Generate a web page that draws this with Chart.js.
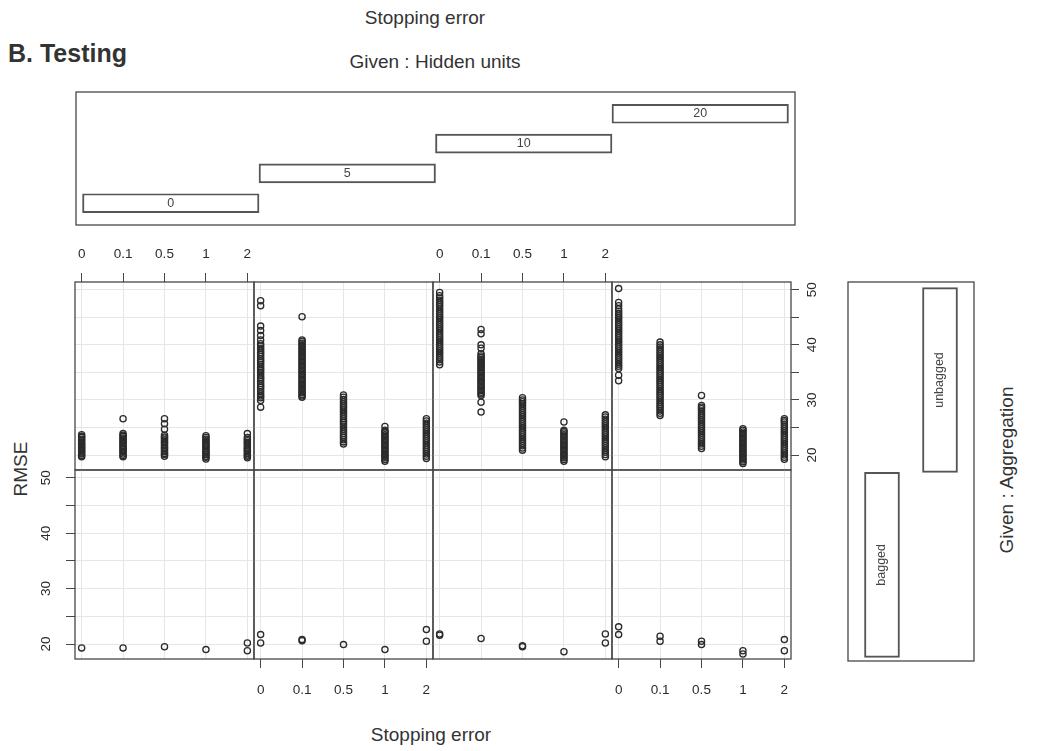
<!DOCTYPE html>
<html>
<head>
<meta charset="utf-8">
<title>RMSE by stopping error, hidden units and aggregation</title>
<script src="https://cdn.jsdelivr.net/npm/chart.js@4.4.1/dist/chart.umd.min.js"></script>
<style>
  body { margin: 0; background: #fff; }
  #page {
    position: relative; width: 1037px; height: 751px; overflow: hidden;
    font-family: "Liberation Sans", Arial, sans-serif; color: #333;
  }
  #page canvas { position: absolute; }
  .lbl { position: absolute; white-space: nowrap; font-size: 19px; transform: translate(-50%, -50%); }
  .rot { transform: translate(-50%, -50%) rotate(-90deg); }
</style>
</head>
<body>
<div id="page">
  <div class="lbl" style="left:425px; top:18px">Stopping error</div>
  <div class="lbl" style="left:8px; top:53px; transform:translate(0,-50%); font-weight:bold; font-size:25px">B. Testing</div>
  <div class="lbl" style="left:435px; top:62px">Given : Hidden units</div>
  <div class="lbl rot" style="left:21px; top:469px">RMSE</div>
  <div class="lbl" style="left:431px; top:735px">Stopping error</div>
  <div class="lbl rot" style="left:1007px; top:470px">Given : Aggregation</div>
</div>
<script>
// categories and tick labels
const stopErrors = ['0', '0.1', '0.5', '1', '2'];
const hiddenUnits = ['0', '5', '10', '20'];
const aggregation = ['bagged', 'unbagged'];
const rmseTicks = [20, 25, 30, 35, 40, 45, 50];
const rmseTickLabels = ['20', '', '30', '', '40', '', '50'];

// test RMSE of every run, one list per stopping error (unbagged networks)
const unbagged0 = [
  [19.7, 19.9, 20.2, 20.4, 20.7, 20.9, 21.2, 21.4, 21.6, 21.9, 22.1, 22.4, 22.7, 22.9, 23.2, 23.4, 23.7],
  [19.7, 19.9, 20.2, 20.5, 20.7, 21.0, 21.3, 21.5, 21.8, 22.1, 22.3, 22.6, 22.9, 23.1, 23.4, 23.6, 23.9, 26.6],
  [19.8, 20.1, 20.3, 20.6, 20.9, 21.2, 21.4, 21.7, 22.0, 22.3, 22.5, 22.8, 23.1, 23.3, 23.6, 24.7, 25.7, 26.6],
  [19.3, 19.6, 19.8, 20.1, 20.4, 20.6, 20.9, 21.2, 21.5, 21.7, 22.0, 22.3, 22.6, 22.9, 23.2, 23.5],
  [19.5, 19.8, 20.0, 20.3, 20.6, 20.9, 21.1, 21.4, 21.7, 22.0, 22.3, 22.6, 22.9, 23.2, 23.9]
];
const unbagged5 = [
  [28.7, 29.9, 30.4, 30.7, 31.1, 31.5, 31.9, 32.3, 32.6, 33.0, 33.4, 33.8, 34.1, 34.5, 34.9, 35.3, 35.6, 36.0,
   36.4, 36.8, 37.1, 37.5, 37.9, 38.3, 38.6, 39.0, 39.4, 39.8, 40.2, 40.9, 41.7, 42.6, 43.4, 47.1, 48.0],
  [30.5, 30.7, 31.0, 31.3, 31.6, 31.9, 32.2, 32.5, 32.8, 33.1, 33.4, 33.7, 34.0, 34.3, 34.6, 34.9, 35.2, 35.5,
   35.8, 36.1, 36.4, 36.7, 37.0, 37.3, 37.6, 37.9, 38.2, 38.5, 38.8, 39.1, 39.4, 39.7, 40.0, 40.3, 40.6, 40.9, 45.1],
  [22.0, 22.4, 22.8, 23.2, 23.5, 23.9, 24.3, 24.7, 25.1, 25.5, 25.9, 26.2, 26.6, 27.0, 27.4, 27.8, 28.2, 28.6,
   28.9, 29.3, 29.7, 30.1, 30.5, 30.9],
  [18.9, 19.2, 19.5, 19.8, 20.1, 20.4, 20.7, 21.0, 21.3, 21.6, 21.9, 22.2, 22.5, 22.8, 23.1, 23.4, 23.7, 24.0, 24.3, 24.5, 25.2],
  [19.4, 19.8, 20.2, 20.6, 21.0, 21.4, 21.8, 22.2, 22.6, 23.0, 23.4, 23.8, 24.2, 24.6, 25.0, 25.4, 25.8, 26.2, 26.6]
];
const unbagged10 = [
  [36.4, 36.9, 37.3, 37.7, 38.1, 38.5, 38.9, 39.3, 39.7, 40.1, 40.5, 40.9, 41.3, 41.7, 42.1, 42.5, 42.9, 43.3,
   43.7, 44.1, 44.5, 44.9, 45.3, 45.7, 46.1, 46.5, 46.9, 47.3, 47.7, 48.1, 48.5, 48.9, 49.5],
  [27.8, 29.6, 30.8, 31.1, 31.4, 31.7, 32.0, 32.3, 32.6, 32.9, 33.2, 33.5, 33.8, 34.1, 34.4, 34.7, 35.0, 35.3,
   35.6, 35.9, 36.2, 36.5, 36.8, 37.1, 37.4, 37.7, 38.0, 38.4, 39.4, 40.0, 42.0, 42.8],
  [20.9, 21.3, 21.7, 22.1, 22.5, 22.9, 23.3, 23.7, 24.1, 24.5, 24.9, 25.3, 25.7, 26.1, 26.5, 26.9, 27.3, 27.7,
   28.1, 28.5, 28.9, 29.3, 29.7, 30.0, 30.4],
  [18.9, 19.2, 19.5, 19.8, 20.1, 20.4, 20.7, 21.0, 21.3, 21.6, 21.9, 22.2, 22.5, 22.8, 23.1, 23.4, 23.7, 24.0, 24.3, 24.5, 26.0],
  [19.7, 20.1, 20.5, 20.9, 21.3, 21.7, 22.1, 22.5, 22.9, 23.3, 23.7, 24.1, 24.5, 24.9, 25.3, 25.7, 26.1, 26.5, 26.9, 27.3]
];
const unbagged20 = [
  [33.5, 34.5, 35.7, 36.1, 36.5, 36.9, 37.3, 37.7, 38.1, 38.5, 38.9, 39.3, 39.7, 40.1, 40.5, 40.9, 41.3, 41.7,
   42.1, 42.5, 42.9, 43.3, 43.7, 44.1, 44.5, 44.9, 45.3, 45.7, 46.1, 46.5, 47.1, 47.7, 50.2],
  [27.2, 27.6, 28.0, 28.4, 28.8, 29.2, 29.6, 30.0, 30.4, 30.8, 31.2, 31.6, 32.0, 32.4, 32.8, 33.2, 33.6, 34.0,
   34.4, 34.8, 35.2, 35.6, 36.0, 36.4, 36.8, 37.2, 37.6, 38.0, 38.4, 38.8, 39.2, 39.6, 40.0, 40.5],
  [21.2, 21.6, 22.0, 22.4, 22.8, 23.2, 23.6, 24.0, 24.4, 24.8, 25.2, 25.6, 26.0, 26.4, 26.8, 27.2, 27.6, 28.0,
   28.4, 28.7, 29.0, 30.8],
  [18.5, 18.8, 19.1, 19.4, 19.7, 20.0, 20.3, 20.6, 20.9, 21.2, 21.5, 21.8, 22.1, 22.4, 22.7, 23.0, 23.3, 23.6, 23.9, 24.2, 24.5, 24.8],
  [19.25, 19.6, 20.0, 20.4, 20.8, 21.2, 21.6, 22.0, 22.4, 22.8, 23.2, 23.6, 24.0, 24.4, 24.8, 25.2, 25.6, 26.0, 26.3, 26.6]
];

// bagged ensembles
const bagged0 = [[19.3], [19.3], [19.5], [19.0], [20.2, 18.8]];
const bagged5 = [[21.7, 20.2], [20.6, 20.8], [19.9], [19.0], [22.6, 20.5]];
const bagged10 = [[21.6, 21.8], [21.0], [19.5, 19.7], [18.6], [21.8, 20.2]];
const bagged20 = [[23.1, 21.7], [21.4, 20.5], [20.5, 19.9], [18.8, 18.2], [20.8, 18.8]];

// ---- layout ----
const M = 50;
const colLeft = [75, 254, 433, 612];
const colWidth = 179;
const rowTop = [282, 470];
const rowHeight = [188, 189];
const inkColor = '#2b2b2b';
const boxColor = '#474747';
const gridColor = '#e6e6e6';
const tickFont = { family: 'Liberation Sans', size: 13.5 };

Chart.defaults.font.family = 'Liberation Sans';
Chart.defaults.color = inkColor;

function makeCanvas(x, y, w, h) {
  const c = document.createElement('canvas');
  c.width = w; c.height = h;
  c.style.left = x + 'px'; c.style.top = y + 'px';
  c.style.width = w + 'px'; c.style.height = h + 'px';
  document.getElementById('page').appendChild(c);
  return c;
}

// frame round the plotting area
const panelBox = {
  id: 'panelBox',
  afterDraw(chart) {
    const { ctx, chartArea: a } = chart;
    ctx.save();
    ctx.strokeStyle = boxColor;
    ctx.lineWidth = 1.3;
    ctx.strokeRect(a.left, a.top, a.right - a.left, a.bottom - a.top);
    ctx.restore();
  }
};

// level names written inside the given-panel bars
const barText = {
  id: 'barText',
  afterDatasetsDraw(chart, args, opts) {
    const { ctx } = chart;
    ctx.save();
    ctx.font = '12.5px "Liberation Sans"';
    ctx.fillStyle = '#444';
    ctx.textAlign = 'center';
    ctx.textBaseline = 'middle';
    chart.getDatasetMeta(0).data.forEach((bar, i) => {
      const p = bar.getCenterPoint();
      ctx.save();
      ctx.translate(p.x, p.y);
      if (opts.rotate) ctx.rotate(-Math.PI / 2);
      ctx.fillText(opts.labels[i], 0, 0);
      ctx.restore();
    });
    ctx.restore();
  }
};

function drawPanel(row, col, runs, xSide, ySide) {
  const left = colLeft[col], top = rowTop[row], h = rowHeight[row];
  const canvas = makeCanvas(left - M, top - M, colWidth + 2 * M, h + 2 * M);
  const points = [];
  runs.forEach((vals, i) => vals.forEach(v => points.push({ x: i, y: v })));

  const xSize = 36, ySize = 34;
  const pad = { left: M, right: M, top: M, bottom: M };
  if (xSide) pad[xSide] -= xSize;
  if (ySide) pad[ySide] -= ySize;

  new Chart(canvas, {
    type: 'scatter',
    data: {
      datasets: [{
        data: points,
        pointStyle: 'circle',
        pointRadius: 3.1,
        pointBorderWidth: 1.3,
        pointBorderColor: inkColor,
        pointBackgroundColor: 'rgba(0,0,0,0)',
        borderColor: inkColor,
        backgroundColor: 'rgba(0,0,0,0)'
      }]
    },
    options: {
      responsive: false,
      animation: false,
      events: [],
      layout: { padding: pad },
      plugins: { legend: { display: false }, tooltip: { enabled: false } },
      scales: {
        x: {
          type: 'linear',
          position: xSide || 'bottom',
          bounds: 'data',
          min: -0.16,
          max: 4.16,
          afterBuildTicks: s => { s.ticks = stopErrors.map((_, i) => ({ value: i })); },
          afterFit: s => { s.height = xSide ? xSize : 0; },
          border: { display: false },
          grid: { color: gridColor, tickColor: boxColor, drawTicks: !!xSide, tickLength: 9 },
          ticks: {
            display: !!xSide,
            padding: xSide === 'top' ? 11 : 14,
            font: tickFont,
            color: inkColor,
            maxRotation: 0,
            callback: v => stopErrors[v]
          }
        },
        y: {
          type: 'linear',
          position: ySide || 'left',
          bounds: 'data',
          min: 17.3,
          max: 51.4,
          afterBuildTicks: s => { s.ticks = rmseTicks.map(v => ({ value: v })); },
          afterFit: s => { s.width = ySide ? ySize : 0; },
          border: { display: false },
          grid: { color: gridColor, tickColor: boxColor, drawTicks: !!ySide, tickLength: ySide === 'right' ? 8 : 9 },
          ticks: {
            display: !!ySide,
            padding: ySide === 'right' ? 5.5 : 12,
            font: tickFont,
            color: inkColor,
            minRotation: 90,
            maxRotation: 90,
            crossAlign: 'center',
            callback: v => rmseTickLabels[rmseTicks.indexOf(v)]
          }
        }
      }
    },
    plugins: [panelBox]
  });
}

// unbagged row on top, bagged row underneath
drawPanel(0, 0, unbagged0, 'top', null);
drawPanel(0, 1, unbagged5, null, null);
drawPanel(0, 2, unbagged10, 'top', null);
drawPanel(0, 3, unbagged20, null, 'right');
drawPanel(1, 0, bagged0, null, 'left');
drawPanel(1, 1, bagged5, 'bottom', null);
drawPanel(1, 2, bagged10, null, null);
drawPanel(1, 3, bagged20, 'bottom', null);

// given panel: hidden units
(function () {
  const box = { x: 76, y: 92, w: 719, h: 133 };
  const canvas = makeCanvas(box.x - 10, box.y - 10, box.w + 20, box.h + 20);
  new Chart(canvas, {
    type: 'bar',
    data: {
      datasets: [{
        data: hiddenUnits.map((u, i) => ({ x: [i, i + 1], y: i + 1 })),
        backgroundColor: 'rgba(255,255,255,0)',
        borderColor: '#555',
        borderWidth: 1.3,
        borderSkipped: false,
        barThickness: 19
      }]
    },
    options: {
      indexAxis: 'y',
      responsive: false,
      animation: false,
      events: [],
      layout: { padding: 10 },
      plugins: {
        legend: { display: false }, tooltip: { enabled: false },
        barText: { labels: hiddenUnits, rotate: false }
      },
      scales: {
        x: { type: 'linear', display: false, offset: false, min: -0.037, max: 4.037 },
        y: { type: 'linear', display: false, offset: false, min: 0.27, max: 4.73 }
      }
    },
    plugins: [panelBox, barText]
  });
})();

// given panel: aggregation
(function () {
  const box = { x: 848, y: 282, w: 126, h: 379 };
  const canvas = makeCanvas(box.x - 10, box.y - 10, box.w + 20, box.h + 20);
  new Chart(canvas, {
    type: 'bar',
    data: {
      datasets: [{
        data: aggregation.map((a, i) => ({ x: i + 1, y: [i, i + 1] })),
        backgroundColor: 'rgba(255,255,255,0)',
        borderColor: '#555',
        borderWidth: 1.3,
        borderSkipped: false,
        barThickness: 35
      }]
    },
    options: {
      responsive: false,
      animation: false,
      events: [],
      layout: { padding: 10 },
      plugins: {
        legend: { display: false }, tooltip: { enabled: false },
        barText: { labels: aggregation, rotate: true }
      },
      scales: {
        x: { type: 'linear', display: false, offset: false, min: 0.414, max: 2.586 },
        y: { type: 'linear', display: false, offset: false, min: -0.02, max: 2.03 }
      }
    },
    plugins: [panelBox, barText]
  });
})();
</script>
</body>
</html>
